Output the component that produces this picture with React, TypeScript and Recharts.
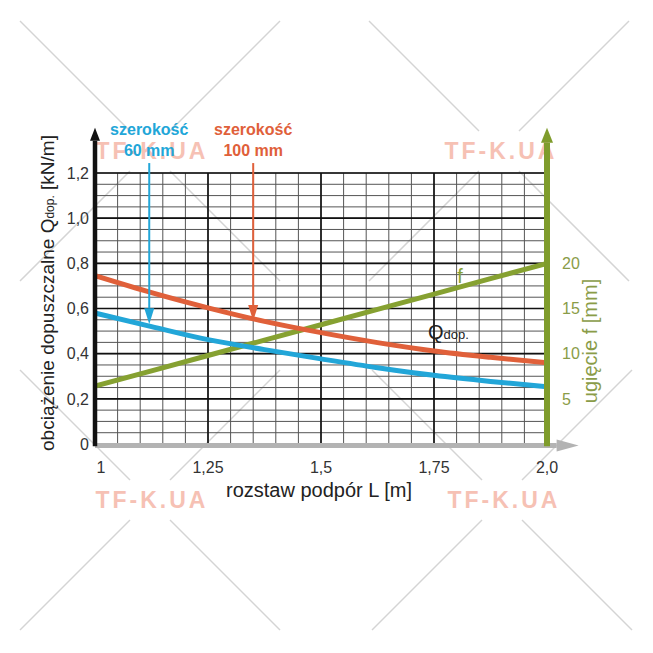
import React from 'react';
import { ComposedChart, Line, XAxis, YAxis, CartesianGrid, ReferenceLine } from 'recharts';

// rozstaw podpór L [m]
const spans = [1, 1.125, 1.25, 1.375, 1.5, 1.625, 1.75, 1.875, 2];
// obciążenie dopuszczalne, szerokość 60 mm [kN/m]
const load60 = [0.58, 0.52, 0.462, 0.418, 0.377, 0.338, 0.304, 0.277, 0.254];
// obciążenie dopuszczalne, szerokość 100 mm [kN/m]
const load100 = [0.745, 0.67, 0.603, 0.543, 0.493, 0.449, 0.412, 0.384, 0.36];
// ugięcie f [mm]
const deflection = [6.4, 8.1, 9.8, 11.5, 13.2, 14.9, 16.6, 18.3, 20.0];

const xTicks = [1, 1.25, 1.5, 1.75, 2];
const xTickLabels = ['1', '1,25', '1,5', '1,75', '2,0'];
const qTicks = [0, 0.2, 0.4, 0.6, 0.8, 1.0, 1.2];
const qTickLabels = ['0', '0,2', '0,4', '0,6', '0,8', '1,0', '1,2'];
const fTicks = [5, 10, 15, 20];

// arrows: width label, span where it points, load at tip
const widthArrows = [
    { label: '60 mm', span: 1.12, tip: 0.53, color: '#22a6d8' },
    { label: '100 mm', span: 1.35, tip: 0.545, color: '#e0603a' },
];

const BLUE = '#22a6d8';
const ORANGE = '#e0603a';
const GREEN = '#86a131';
const OLIVE = '#8a9c48';
const FONT = '"Liberation Sans", Arial, sans-serif';

const data = spans.map((L, i) => ({ L, q60: load60[i], q100: load100[i], f: deflection[i] }));

const minorX: number[] = [];
for (let i = 0; i <= 20; i++) minorX.push(+(1 + i * 0.05).toFixed(2));
const minorY: number[] = [];
for (let i = 0; i <= 24; i++) minorY.push(+(i * 0.05).toFixed(2));

const arrowShape = (color: string, width: number, head: number, len: number) => (p: any) => {
    const { x1, y1, x2, y2 } = p;
    const dx = x2 - x1, dy = y2 - y1;
    const d = Math.hypot(dx, dy) || 1;
    const ux = dx / d, uy = dy / d;
    const bx = x2 - ux * len, by = y2 - uy * len;
    const nx = -uy, ny = ux;
    return (
        <g>
            <line x1={x1} y1={y1} x2={bx} y2={by} stroke={color} strokeWidth={width} />
            <polygon points={`${x2},${y2} ${bx + nx * head},${by + ny * head} ${bx - nx * head},${by - ny * head}`} fill={color} />
        </g>
    );
};

const widthArrowShape = (label: string, color: string) => (p: any) => {
    const { x1, y1 } = p;
    return (
        <g>
            {arrowShape(color, 2, 5, 16)(p)}
            <text x={x1} y={y1 - 28} textAnchor="middle" fill={color} fontSize={16} fontWeight="bold" fontFamily={FONT}>szerokość</text>
            <text x={x1} y={y1 - 7} textAnchor="middle" fill={color} fontSize={16} fontWeight="bold" fontFamily={FONT}>{label}</text>
        </g>
    );
};

const XTick = (p: any) => {
    const { x, y, payload, index } = p;
    return (
        <text x={x + (index === 0 ? 6 : 0)} y={y} dy="0.71em" textAnchor="middle" fill="#333" fontSize={16} fontFamily={FONT}>
            {xTickLabels[xTicks.indexOf(payload.value)] ?? payload.value}
        </text>
    );
};

const watermarks = [
    { x: 142, y: 143 },
    { x: 491, y: 143 },
    { x: 142, y: 492 },
    { x: 494, y: 492 },
];

export default function App() {
    return (
        <div style={{ position: 'relative', width: 653, height: 653, fontFamily: FONT }}>
            <svg width={653} height={653} style={{ position: 'absolute', left: 0, top: 0, pointerEvents: 'none' }} fontFamily={FONT}>
                {watermarks.map((w, i) => (
                    <g key={i}>
                        {[[-1, -1], [1, -1], [-1, 1], [1, 1]].map(([sx, sy], k) => (
                            <line key={k} x1={w.x + sx * 20} y1={w.y + sy * 20} x2={w.x + sx * 130} y2={w.y + sy * 130}
                                stroke="#d4d4d4" strokeWidth={1.5} />
                        ))}
                        <text x={w.x + 2} y={w.y} textAnchor="middle" dominantBaseline="central" fontSize={23} fontWeight="bold"
                            letterSpacing={3} fill="#f08f78" opacity={0.55}>TF-K.UA</text>
                    </g>
                ))}
            </svg>
            <ComposedChart width={653} height={653} data={data} margin={{ top: 165, right: 54, bottom: 187, left: 27 }}>
                <CartesianGrid yAxisId="q" verticalValues={minorX} horizontalValues={minorY} stroke="#555" strokeWidth={1} />
                <CartesianGrid yAxisId="q" verticalValues={[1.25, 1.5, 1.75]} horizontalValues={[0.2, 0.4, 0.6, 0.8, 1.0, 1.2]} stroke="#111" strokeWidth={1.6} />
                <XAxis type="number" dataKey="L" domain={[1, 2]} ticks={xTicks} allowDataOverflow interval={0}
                    axisLine={false} tickLine={false} tickSize={0} tickMargin={18} height={30}
                    tick={<XTick />} />
                <YAxis yAxisId="q" domain={[0, 1.2]} ticks={qTicks} allowDataOverflow interval={0}
                    tickFormatter={(v: number) => qTickLabels[qTicks.indexOf(v)] ?? String(v)}
                    axisLine={false} tickLine={false} tickSize={0} tickMargin={6} width={60}
                    tick={{ fill: '#333', fontSize: 16, fontFamily: FONT }} />
                <YAxis yAxisId="f" orientation="right" domain={[0, 30]} ticks={fTicks} allowDataOverflow interval={0}
                    axisLine={false} tickLine={false} tickSize={0} tickMargin={15} width={60}
                    tick={{ fill: OLIVE, fontSize: 16, fontFamily: FONT }} />
                <Line yAxisId="f" dataKey="f" type="linear" stroke={GREEN} strokeWidth={5} dot={false} isAnimationActive={false} />
                <Line yAxisId="q" dataKey="q60" type="monotone" stroke={BLUE} strokeWidth={5} dot={false} isAnimationActive={false} />
                <Line yAxisId="q" dataKey="q100" type="monotone" stroke={ORANGE} strokeWidth={5} dot={false} isAnimationActive={false} />
                {widthArrows.map(a => (
                    <ReferenceLine key={a.label} yAxisId="q" ifOverflow="visible"
                        segment={[{ x: a.span, y: 1.244 }, { x: a.span, y: a.tip }]}
                        shape={widthArrowShape(a.label, a.color)} />
                ))}
                <ReferenceLine yAxisId="q" ifOverflow="visible" segment={[{ x: 1, y: -0.007 }, { x: 2.07, y: -0.007 }]}
                    shape={arrowShape('#b3b3b3', 5, 6, 22)} />
                <ReferenceLine yAxisId="q" ifOverflow="visible" segment={[{ x: 2, y: -0.01 }, { x: 2, y: 1.4 }]}
                    shape={arrowShape('#7f9c2c', 6, 6, 15)} />
                <ReferenceLine yAxisId="q" ifOverflow="visible" segment={[{ x: 1, y: -0.01 }, { x: 1, y: 1.4 }]}
                    shape={arrowShape('#111', 4.5, 5, 13)} />
            </ComposedChart>
            <svg width={653} height={653} style={{ position: 'absolute', left: 0, top: 0, pointerEvents: 'none' }} fontFamily={FONT}>
                <text transform="translate(39,285) rotate(-90)" textAnchor="middle" dominantBaseline="central" fontSize={19} fill="#222">
                    obciążenie dopuszczalne Q<tspan fontSize={12} dy={3}>dop.</tspan><tspan dy={-3}> [kN/m]</tspan>
                </text>
                <text x={311} y={489} textAnchor="middle" fontSize={20} fill="#222">rozstaw podpór L [m]</text>
                <text transform="translate(582,333) rotate(-90)" textAnchor="middle" dominantBaseline="central" fontSize={20} fill={OLIVE}>ugięcie f [mm]</text>
                <text x={420} y={331} fontSize={20} fill="#222">Q<tspan fontSize={13}>dop.</tspan></text>
                <text x={452} y={275} textAnchor="middle" fontSize={20} fill={GREEN}>f</text>
            </svg>
        </div>
    );
}
